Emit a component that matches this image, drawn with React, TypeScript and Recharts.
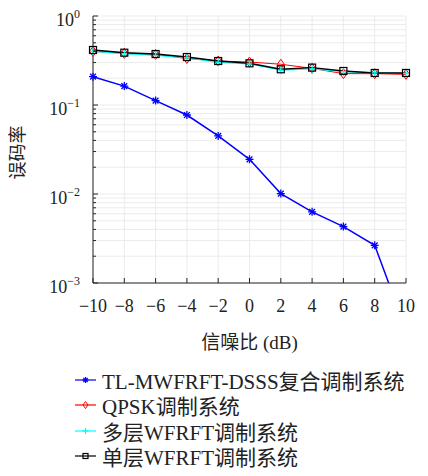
import React from "react";
import { LineChart, Line, XAxis, YAxis, CartesianGrid, Legend } from "recharts";

// SNR (dB) on the x axis
const snr = [-10, -8, -6, -4, -2, 0, 2, 4, 6, 8, 10];

// bit error rate per system
const tlMwfrftDsss = [0.208, 0.163, 0.112, 0.0772, 0.0449, 0.0245, 0.0101, 0.0063, 0.0043, 0.00265, 0.0003];
const qpsk = [0.4, 0.38, 0.37, 0.333, 0.312, 0.304, 0.287, 0.258, 0.225, 0.225, 0.221];
const multiLayer = [0.4, 0.378, 0.362, 0.34, 0.302, 0.29, 0.247, 0.254, 0.237, 0.23, 0.227];
const singleLayer = [0.415, 0.387, 0.374, 0.346, 0.312, 0.294, 0.252, 0.263, 0.241, 0.229, 0.229];

const seriesNames = [
  "TL-MWFRFT-DSSS复合调制系统",
  "QPSK调制系统",
  "多层WFRFT调制系统",
  "单层WFRFT调制系统",
];

const yTicks = [
  0.001, 0.002, 0.003, 0.004, 0.005, 0.006, 0.007, 0.008, 0.009,
  0.01, 0.02, 0.03, 0.04, 0.05, 0.06, 0.07, 0.08, 0.09,
  0.1, 0.2, 0.3, 0.4, 0.5, 0.6, 0.7, 0.8, 0.9, 1,
];
const yMajor = [0.001, 0.01, 0.1, 1];
const yExp = ["−3", "−2", "−1", "0"];

const data = snr.map((s, i) => ({
  snr: s,
  tl: tlMwfrftDsss[i],
  qpsk: qpsk[i],
  multi: multiLayer[i],
  single: singleLayer[i],
}));

const FONT = "'Liberation Serif', 'DejaVu Serif', 'Times New Roman', serif, 'Noto Sans CJK SC'";
const FRAME = "#262626";
const BLUE = "#0000ff";
const RED = "#ff0000";
const CYAN = "#00ffff";
const BLACK = "#000000";

// markers
const Star = ({ cx, cy, r = 4 }: any) => {
  const d = r * 0.72;
  return (
    <g stroke={BLUE} strokeWidth={1.3}>
      <line x1={cx - r} y1={cy} x2={cx + r} y2={cy} />
      <line x1={cx} y1={cy - r} x2={cx} y2={cy + r} />
      <line x1={cx - d} y1={cy - d} x2={cx + d} y2={cy + d} />
      <line x1={cx - d} y1={cy + d} x2={cx + d} y2={cy - d} />
    </g>
  );
};
const Diamond = ({ cx, cy, w = 3.5, h = 5 }: any) => (
  <polygon
    points={`${cx},${cy - h} ${cx + w},${cy} ${cx},${cy + h} ${cx - w},${cy}`}
    fill="none"
    stroke={RED}
    strokeWidth={1}
  />
);
const Plus = ({ cx, cy, r = 4 }: any) => (
  <g stroke={CYAN} strokeWidth={1.2}>
    <line x1={cx - r} y1={cy} x2={cx + r} y2={cy} />
    <line x1={cx} y1={cy - r} x2={cx} y2={cy + r} />
  </g>
);
const Square = ({ cx, cy, s = 3.5 }: any) => (
  <rect x={cx - s} y={cy - s} width={s * 2} height={s * 2} fill="none" stroke={BLACK} strokeWidth={1.2} />
);

const colors = [BLUE, RED, CYAN, BLACK];

const dotFor = (Mark: any, id: string) => (p: any) =>
  p.cx == null || p.cy == null ? <g key={`${id}-${p.index}`} /> : <Mark key={`${id}-${p.index}`} cx={p.cx} cy={p.cy} />;

const fmtX = (v: number) => (v < 0 ? `−${Math.abs(v)}` : String(v));

const LeftTick = (props: any) => {
  const { x, y, payload } = props;
  const k = yMajor.indexOf(payload.value);
  const major = k >= 0;
  return (
    <g>
      <line x1={x} y1={y} x2={x + (major ? 5 : 3)} y2={y} stroke={FRAME} />
      {major && (
        <text x={x - 13} y={y + 10} textAnchor="end" style={{ fontFamily: FONT }} fontSize={18} fill="#222">
          10<tspan dy={-8} fontSize={12}>{yExp[k]}</tspan>
        </text>
      )}
    </g>
  );
};

const RightTick = (props: any) => {
  const { x, y, payload } = props;
  const major = yMajor.includes(payload.value);
  return <line x1={x} y1={y} x2={x - (major ? 5 : 3)} y2={y} stroke={FRAME} />;
};

const BottomTick = (props: any) => {
  const { x, y, payload } = props;
  return (
    <g>
      <line x1={x} y1={y} x2={x} y2={y - 5} stroke={FRAME} />
      <text x={x} y={y + 29} textAnchor="middle" style={{ fontFamily: FONT }} fontSize={18} fill="#222">
        {fmtX(payload.value)}
      </text>
    </g>
  );
};

const TopTick = (props: any) => {
  const { x, y } = props;
  return <line x1={x} y1={y} x2={x} y2={y + 5} stroke={FRAME} />;
};

const LegendBox = () => (
  <div style={{ fontFamily: FONT, fontSize: 21, color: "#222" }}>
    {seriesNames.map((name, i) => (
      <div key={name} style={{ display: "flex", alignItems: "center", height: 25.5 }}>
        <svg width={21} height={12} style={{ flex: "none" }}>
          <line x1={0} y1={6} x2={21} y2={6} stroke={colors[i]} strokeWidth={1.2} />
          {i === 0 && <Star cx={10.5} cy={6} r={3} />}
          {i === 1 && <Diamond cx={10.5} cy={6} w={2.5} h={3.5} />}
          {i === 2 && <Plus cx={10.5} cy={6} r={3} />}
          {i === 3 && <Square cx={10.5} cy={6} s={2.5} />}
        </svg>
        <span style={{ marginLeft: 6, whiteSpace: "nowrap" }}>{name}</span>
      </div>
    ))}
  </div>
);

export default function App() {
  return (
    <div style={{ position: "absolute", left: 0, top: 0, background: "#fff" }}>
      <LineChart width={428} height={476} data={data} margin={{ top: 16, right: 22, left: 0, bottom: 0 }}>
        <CartesianGrid stroke="#e6e6e6" strokeWidth={0.8} />
        <XAxis
          dataKey="snr"
          type="number"
          domain={[-10, 10]}
          ticks={snr}
          interval={0}
          height={193}
          tickSize={0}
          tickMargin={0}
          tickLine={false}
          axisLine={{ stroke: FRAME }}
          tick={<BottomTick />}
          label={(p: any) => (
            <text
              x={p.viewBox.x + p.viewBox.width / 2}
              y={p.viewBox.y + 59}
              textAnchor="middle"
              dominantBaseline="central"
              style={{ fontFamily: FONT }}
              fontSize={19}
              fill="#222"
            >
              信噪比 (dB)
            </text>
          )}
        />
        <XAxis
          xAxisId="t"
          orientation="top"
          dataKey="snr"
          type="number"
          domain={[-10, 10]}
          ticks={snr}
          interval={0}
          height={0}
          tickSize={0}
          tickMargin={0}
          tickLine={false}
          axisLine={{ stroke: FRAME }}
          tick={<TopTick />}
        />
        <YAxis
          scale="log"
          domain={[0.001, 1]}
          allowDataOverflow
          ticks={yTicks}
          interval={0}
          width={93}
          tickSize={0}
          tickMargin={0}
          tickLine={false}
          axisLine={{ stroke: FRAME }}
          tick={<LeftTick />}
          label={(p: any) => {
            const cx = 18;
            const cy = p.viewBox.y + p.viewBox.height / 2 + 3;
            return (
              <text
                x={cx}
                y={cy}
                transform={`rotate(-90, ${cx}, ${cy})`}
                textAnchor="middle"
                dominantBaseline="central"
                style={{ fontFamily: FONT }}
                fontSize={18}
                fill="#222"
              >
                误码率
              </text>
            );
          }}
        />
        <YAxis
          yAxisId="r"
          orientation="right"
          scale="log"
          domain={[0.001, 1]}
          allowDataOverflow
          ticks={yTicks}
          interval={0}
          width={0}
          tickSize={0}
          tickMargin={0}
          tickLine={false}
          axisLine={{ stroke: FRAME }}
          tick={<RightTick />}
        />
        <Line
          type="linear"
          dataKey="tl"
          name={seriesNames[0]}
          stroke={BLUE}
          strokeWidth={1.5}
          dot={dotFor(Star, "tl")}
          activeDot={false}
          isAnimationActive={false}
        />
        <Line
          type="linear"
          dataKey="qpsk"
          name={seriesNames[1]}
          stroke={RED}
          strokeWidth={1}
          dot={dotFor(Diamond, "qp")}
          activeDot={false}
          isAnimationActive={false}
        />
        <Line
          type="linear"
          dataKey="multi"
          name={seriesNames[2]}
          stroke={CYAN}
          strokeWidth={1.3}
          dot={dotFor(Plus, "mu")}
          activeDot={false}
          isAnimationActive={false}
        />
        <Line
          type="linear"
          dataKey="single"
          name={seriesNames[3]}
          stroke={BLACK}
          strokeWidth={1.4}
          dot={dotFor(Square, "si")}
          activeDot={false}
          isAnimationActive={false}
        />
        <Legend
          layout="vertical"
          align="center"
          verticalAlign="middle"
          wrapperStyle={{ top: 367, left: 75, width: 353 }}
          content={() => <LegendBox />}
        />
      </LineChart>
    </div>
  );
}
